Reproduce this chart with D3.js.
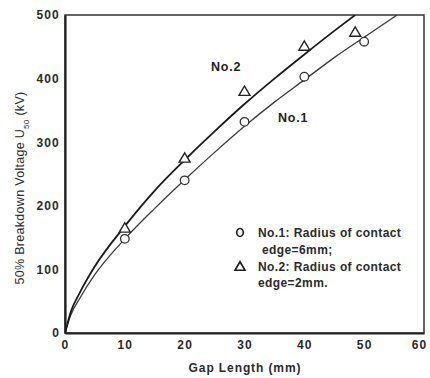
<!DOCTYPE html>
<html>
<head>
<meta charset="utf-8">
<script src="https://cdn.jsdelivr.net/npm/d3@7"></script>
<style>
  body { margin: 0; background: #fff; }
  svg { display: block; font-family: "Liberation Sans", Arial, sans-serif; }
  .axis text { font-size: 12px; font-weight: bold; fill: #2b2b2b; letter-spacing: 1.2px; }
  .legend text { font-size: 12px; font-weight: bold; fill: #2b2b2b; letter-spacing: 0.4px; }
</style>
</head>
<body>
<div id="chart"></div>
<script>
// measured points, gap length (mm) vs U50 (kV)
const gapNo1 = [10, 20, 30, 40, 50];
const kvNo1 = [148, 240, 332, 403, 458];
const gapNo2 = [10, 20, 30, 40, 48.5];
const kvNo2 = [166, 276, 381, 452, 474];

// fitted curves, sampled along the gap axis
const curveGapNo1 = [0, 1, 2.5, 5, 10, 15, 20, 25, 30, 35, 40, 45, 50, 55.5];
const curveKvNo1 = [0, 29, 55, 92, 148, 196, 241, 284, 325, 363, 398, 433, 465, 500];
const curveGapNo2 = [0, 1, 2.5, 5, 10, 15, 20, 25, 30, 35, 40, 45, 48.5];
const curveKvNo2 = [0, 34, 64, 105, 168, 224, 272, 317, 360, 400, 438, 475, 500];

const xTicks = [0, 10, 20, 30, 40, 50, 60];
const yTicks = [0, 100, 200, 300, 400, 500];

const legendLines = [
  ["circle", "No.1: Radius of contact", "edge=6mm;", 262],
  ["triangle", "No.2: Radius of contact", "edge=2mm.", 258]
];

const width = 430, height = 378;
const plot = { left: 65, right: 424, top: 15, bottom: 333 };

let svg = d3.select('#chart').append('svg')
  .attr('width', width)
  .attr('height', height);

let x = d3.scaleLinear().domain([0, 60]).range([plot.left, plot.right]);
let y = d3.scaleLinear().domain([0, 500]).range([plot.bottom, plot.top]);

// frame
svg.append('rect')
  .attr('x', plot.left).attr('y', plot.top)
  .attr('width', plot.right - plot.left).attr('height', plot.bottom - plot.top)
  .attr('fill', 'none').attr('stroke', '#333').attr('stroke-width', 1.5);

let xAxis = svg.append('g')
  .attr('class', 'axis')
  .attr('transform', `translate(0,${plot.bottom})`)
  .call(d3.axisBottom(x).tickValues(xTicks).tickSize(0).tickPadding(7));
xAxis.select('.domain').attr('stroke', '#222').attr('stroke-width', 2.2);
// last label sits against the right edge of the page
xAxis.selectAll('.tick text').filter(d => d === 60).attr('dx', -5);

let yAxis = svg.append('g')
  .attr('class', 'axis')
  .attr('transform', `translate(${plot.left},0)`)
  .call(d3.axisLeft(y).tickValues(yTicks).tickSize(0).tickPadding(5));
yAxis.select('.domain').attr('stroke', '#222').attr('stroke-width', 2.2);

// axis titles
svg.append('text')
  .attr('x', 245).attr('y', 372)
  .attr('text-anchor', 'middle')
  .style('font-size', '12px').style('font-weight', 'bold')
  .style('letter-spacing', '0.9px').attr('fill', '#2b2b2b')
  .text('Gap Length (mm)');

let yTitle = svg.append('text')
  .attr('transform', 'translate(24,188) rotate(-90)')
  .attr('text-anchor', 'middle')
  .style('font-size', '12.5px').attr('fill', '#2b2b2b')
  .style('letter-spacing', '0.3px');
yTitle.append('tspan').text('50% Breakdown Voltage U');
yTitle.append('tspan').attr('baseline-shift', 'sub').style('font-size', '8px').text('50');
yTitle.append('tspan').text(' (kV)');

// curves, clipped to the plot box
svg.append('clipPath').attr('id', 'plot-clip')
  .append('rect')
  .attr('x', plot.left).attr('y', plot.top)
  .attr('width', plot.right - plot.left).attr('height', plot.bottom - plot.top);

let line = d3.line()
  .x(d => x(d[0]))
  .y(d => y(d[1]))
  .curve(d3.curveMonotoneX);

let curves = svg.append('g').attr('clip-path', 'url(#plot-clip)');
curves.append('path')
  .datum(d3.zip(curveGapNo1, curveKvNo1))
  .attr('d', line)
  .attr('fill', 'none').attr('stroke', '#3a3a3a').attr('stroke-width', 1.3);
curves.append('path')
  .datum(d3.zip(curveGapNo2, curveKvNo2))
  .attr('d', line)
  .attr('fill', 'none').attr('stroke', '#1a1a1a').attr('stroke-width', 1.8);

// markers
function trianglePath(cx, cy, s) {
  let h = s * 0.85;
  return `M${cx},${cy - h / 2}L${cx + s / 2},${cy + h / 2}L${cx - s / 2},${cy + h / 2}Z`;
}

svg.append('g').selectAll('circle')
  .data(d3.zip(gapNo1, kvNo1))
  .enter().append('circle')
  .attr('cx', d => x(d[0]))
  .attr('cy', d => y(d[1]))
  .attr('r', 4.3)
  .attr('fill', '#fff').attr('stroke', '#333').attr('stroke-width', 1.3);

svg.append('g').selectAll('path')
  .data(d3.zip(gapNo2, kvNo2))
  .enter().append('path')
  .attr('d', d => trianglePath(x(d[0]), y(d[1]), 11))
  .attr('fill', '#fff').attr('stroke', '#222').attr('stroke-width', 1.4);

// curve labels
svg.append('text').attr('x', 211).attr('y', 71)
  .style('font-size', '12.5px').style('font-weight', 'bold')
  .style('letter-spacing', '0.8px').attr('fill', '#222')
  .text('No.2');
svg.append('text').attr('x', 278).attr('y', 122)
  .style('font-size', '12.5px').style('font-weight', 'bold')
  .style('letter-spacing', '0.8px').attr('fill', '#222')
  .text('No.1');

// legend
let legend = svg.append('g').attr('class', 'legend');
legendLines.forEach(function (row, i) {
  let top = 237 + i * 33.5;
  if (row[0] === 'circle') {
    legend.append('ellipse')
      .attr('cx', 240).attr('cy', top - 4.5)
      .attr('rx', 3.3).attr('ry', 4)
      .attr('fill', 'none').attr('stroke', '#222').attr('stroke-width', 1.7);
  } else {
    legend.append('path')
      .attr('d', trianglePath(240, top - 4.5, 10))
      .attr('fill', 'none').attr('stroke', '#222').attr('stroke-width', 1.7);
  }
  legend.append('text').attr('x', 258).attr('y', top).text(row[1]);
  legend.append('text').attr('x', row[3]).attr('y', top + 16.5).text(row[2]);
});
</script>
</body>
</html>
